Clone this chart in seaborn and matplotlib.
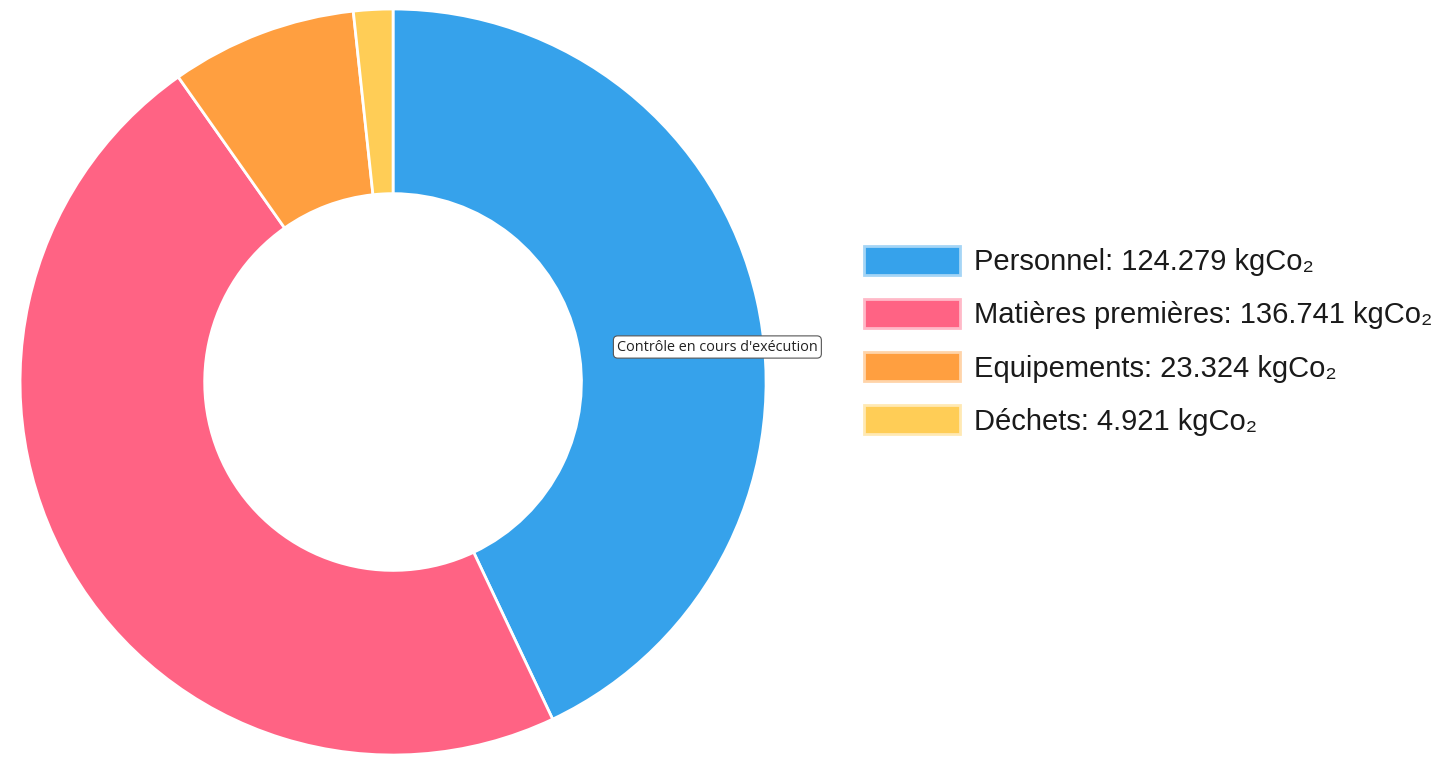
import seaborn as sns
import matplotlib.pyplot as plt
import numpy as np
from matplotlib.patches import Patch

# ---------- DATA ---------- #
categories = ['Personnel', 'Matières premières', 'Equipements', 'Déchets']
values = [124.279, 136.741, 23.324, 4.921]
unit = 'kgCo₂'
colors = ['#36A2EB', '#FF6384', '#FF9F40', '#FFCD56']
tooltip = "Contrôle en cours d'exécution"

sns.set_theme(style='white')
plt.rcParams['font.family'] = ['Liberation Sans', 'DejaVu Sans']
palette = sns.color_palette(colors)

fig = plt.figure(figsize=(14.52, 7.57), dpi=100)

# donut
ax = fig.add_axes([0.0138, 0.0026, 0.5138, 0.9855])
wedges, _ = ax.pie(
    values,
    colors=palette,
    startangle=90,
    counterclock=False,
    radius=1.0,
    wedgeprops=dict(width=0.495, edgecolor='white', linewidth=2),
)
ax.set_xlim(-1.0, 1.0)
ax.set_ylim(-1.0, 1.0)
ax.set_aspect('equal')
ax.axis('off')


def lighten(c, amount=0.5):
    c = np.array(c)
    return tuple(c + (1 - c) * amount)


# legend
labels = [f'{c}: {v:.3f} {unit}' for c, v in zip(categories, values)]
handles = [Patch(facecolor=c, edgecolor=lighten(c, 0.55), linewidth=2)
           for c in palette]
leg = fig.legend(
    handles, labels,
    loc='upper left',
    bbox_to_anchor=(864 / 1452, (757 - 246) / 757),
    frameon=False,
    fontsize=21,
    handlelength=3.3,
    handleheight=1.15,
    handletextpad=0.47,
    labelspacing=0.78,
    borderpad=0,
    borderaxespad=0,
)
for t in leg.get_texts():
    t.set_color('#1a1a1a')

# browser tooltip
fig.text(
    617 / 1452, (757 - 347) / 757, tooltip,
    fontsize=10.4, family=['Open Sans', 'DejaVu Sans'], color='#222222', va='center', ha='left',
    bbox=dict(boxstyle='round,pad=0.25,rounding_size=0.3', facecolor='white', edgecolor='#555555', linewidth=0.8),
)

plt.savefig('out.png', dpi=100)
plt.close()
